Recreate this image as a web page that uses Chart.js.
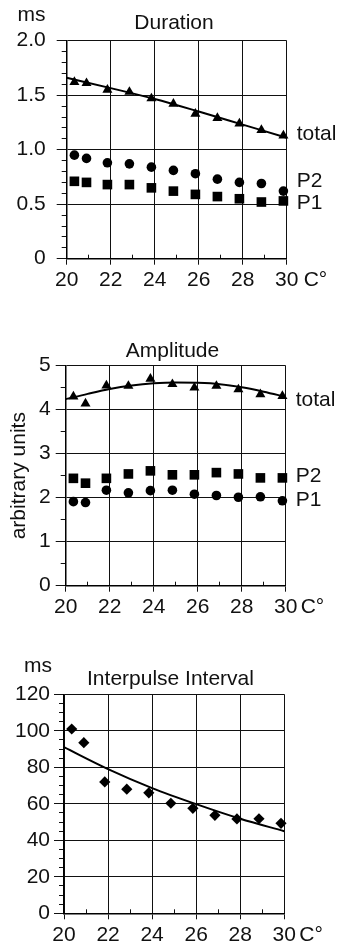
<!DOCTYPE html>
<html>
<head>
<meta charset="utf-8">
<script src="https://cdn.jsdelivr.net/npm/chart.js@4.4.1/dist/chart.umd.min.js"></script>
<style>
  body { margin: 0; background: #fff; width: 337px; height: 945px; position: relative; overflow: hidden; }
  canvas { position: absolute; left: 0; }
</style>
</head>
<body>
<canvas id="chart-1" width="337" height="300" style="top:0px"></canvas>
<canvas id="chart-2" width="337" height="320" style="top:300px"></canvas>
<canvas id="chart-3" width="337" height="325" style="top:620px"></canvas>
<script>
// temperatures (C) of the measured points, same for all three panels
var temps = [20.35, 20.9, 21.85, 22.85, 23.85, 24.85, 25.85, 26.85, 27.85, 28.85, 29.85];

// Duration (ms)
var dur_total = [1.62, 1.61, 1.55, 1.53, 1.47, 1.42, 1.33, 1.29, 1.24, 1.18, 1.13];
var dur_p2 = [0.95, 0.92, 0.88, 0.87, 0.84, 0.81, 0.78, 0.73, 0.70, 0.69, 0.62];
var dur_p1 = [0.71, 0.70, 0.68, 0.68, 0.65, 0.62, 0.59, 0.57, 0.55, 0.52, 0.53];
var dur_fit_x = [20, 22, 24, 26, 28, 30];
var dur_fit_y = [1.66, 1.565, 1.465, 1.35, 1.23, 1.11];

// Amplitude (arbitrary units)
var amp_total = [4.30, 4.14, 4.55, 4.54, 4.70, 4.58, 4.50, 4.54, 4.46, 4.35, 4.31];
var amp_p2 = [2.44, 2.33, 2.44, 2.54, 2.61, 2.52, 2.52, 2.57, 2.54, 2.45, 2.45];
var amp_p1 = [1.91, 1.89, 2.17, 2.11, 2.16, 2.17, 2.08, 2.05, 2.01, 2.02, 1.93];
var amp_fit_x = [20, 21, 22, 23, 24, 25, 26, 27, 28, 29, 30];
var amp_fit_y = [4.24, 4.36, 4.47, 4.55, 4.60, 4.62, 4.61, 4.58, 4.51, 4.41, 4.29];

// Interpulse interval (ms)
var ipi = [101, 93.5, 72, 68, 66, 60.3, 57.5, 53.7, 51.7, 51.8, 49.3];
var ipi_fit_x = [20, 22, 24, 26, 28, 30];
var ipi_fit_y = [91, 79, 68.6, 59.8, 51.8, 45];

var FONT = '"Liberation Sans", Arial, sans-serif';
var FSIZE = 21;
var INK = '#111';

function pts(xs, ys) {
  return xs.map(function (x, i) { return { x: x, y: ys[i] }; });
}

function onStep(v, step) {
  var r = v / step;
  return Math.abs(r - Math.round(r)) < 1e-6;
}

// text that is not part of an axis: panel title, unit, series names, C°
var figText = {
  id: 'figText',
  afterDraw: function (chart, args, o) {
    var ctx = chart.ctx;
    var a = chart.chartArea;
    var y = chart.scales.y;
    ctx.save();
    ctx.fillStyle = INK;
    ctx.font = FSIZE + 'px ' + FONT;
    ctx.textAlign = 'center';
    ctx.textBaseline = 'alphabetic';
    ctx.fillText(o.title, o.titleX, o.titleY);
    if (o.unit) ctx.fillText(o.unit, o.unitX, o.unitY);
    ctx.textAlign = 'left';
    ctx.textBaseline = 'middle';
    o.series.forEach(function (s) {
      ctx.fillText(s.text, a.right + 10, y.getPixelForValue(s.at));
    });
    ctx.fillText('C°', a.right + o.degDx, a.bottom + 22);
    ctx.restore();
  }
};

function makeChart(id, c) {
  var ctx = document.getElementById(id).getContext('2d');
  return new Chart(ctx, {
    type: 'scatter',
    data: { datasets: c.datasets },
    plugins: [figText],
    options: {
      responsive: false,
      animation: false,
      devicePixelRatio: 1,
      layout: { padding: { top: c.top, right: c.right, left: 0, bottom: 0 } },
      plugins: {
        legend: { display: false },
        tooltip: { enabled: false },
        figText: c.text
      },
      scales: {
        x: {
          type: 'linear',
          min: 20,
          max: 30,
          afterFit: function (s) { s.height = c.xHeight; },
          ticks: {
            stepSize: 1,
            autoSkip: false,
            maxRotation: 0,
            padding: 3,
            color: INK,
            font: { family: FONT, size: FSIZE },
            callback: function (v) { return onStep(v, 2) ? String(v) : ''; }
          },
          grid: {
            lineWidth: 1,
            color: '#111',
            tickLength: 6,
            tickWidth: 1,
            tickColor: function (t) { return t.tick && onStep(t.tick.value, 2) ? INK : 'rgba(0,0,0,0)'; }
          },
          border: {
            color: '#000',
            width: 1.5,
            // odd degrees: only a short tick inside the plot
            dash: function (t) {
              if (!t.tick || onStep(t.tick.value, 2)) return [];
              var h = t.chart.chartArea ? t.chart.chartArea.height : 200;
              return [0, h - 4, 4, 1000];
            }
          }
        },
        y: {
          type: 'linear',
          min: c.yMin,
          max: c.yMax,
          afterFit: function (s) { s.width = c.yWidth; },
          title: c.yTitle ? {
            display: true,
            text: c.yTitle,
            color: INK,
            font: { family: FONT, size: FSIZE },
            padding: { top: 7, bottom: 0 }
          } : { display: false },
          ticks: {
            stepSize: c.minor,
            autoSkip: false,
            padding: c.yPad,
            color: INK,
            font: { family: FONT, size: FSIZE },
            callback: function (v) {
              if (!onStep(v, c.major)) return '';
              return v === 0 ? '0' : v.toFixed(c.digits);
            }
          },
          grid: {
            lineWidth: 1,
            color: function (t) { return t.tick && onStep(t.tick.value, c.major) ? '#111' : 'rgba(0,0,0,0)'; },
            tickLength: 10,
            tickWidth: 1,
            tickColor: INK,
            tickBorderDash: function (t) {
              return t.tick && !onStep(t.tick.value, c.major) ? [0, 5, 5, 100] : [];
            }
          },
          border: { color: '#000', width: 1.5 }
        }
      }
    }
  });
}

function markers(xs, ys, style, r) {
  return {
    data: pts(xs, ys),
    showLine: false,
    pointStyle: style,
    pointRadius: r,
    pointHoverRadius: r,
    pointBorderWidth: 0,
    backgroundColor: '#000',
    borderColor: '#000',
    clip: false
  };
}

function fitLine(xs, ys) {
  return {
    data: pts(xs, ys),
    showLine: true,
    pointRadius: 0,
    borderColor: '#000',
    borderWidth: 2,
    cubicInterpolationMode: 'monotone'
  };
}

makeChart('chart-1', {
  top: 40.7, right: 50.3, xHeight: 41.3, yWidth: 66.7, yPad: 11,
  yMin: 0, yMax: 2, minor: 0.1, major: 0.5, digits: 1,
  datasets: [
    fitLine(dur_fit_x, dur_fit_y),
    markers(temps, dur_total, 'triangle', 5.8),
    markers(temps, dur_p2, 'circle', 4.8),
    markers(temps, dur_p1, 'rect', 6.8)
  ],
  text: {
    title: 'Duration', titleX: 174, titleY: 28.5,
    unit: 'ms', unitX: 31.5, unitY: 20.5, degDx: 17,
    series: [{ text: 'total', at: 1.14 }, { text: 'P2', at: 0.71 }, { text: 'P1', at: 0.505 }]
  }
});

makeChart('chart-2', {
  top: 65.7, right: 51.3, xHeight: 34.3, yWidth: 65.7, yPad: 5,
  yMin: 0, yMax: 5, minor: 0.5, major: 1, digits: 0,
  yTitle: 'arbitrary units',
  datasets: [
    fitLine(amp_fit_x, amp_fit_y),
    markers(temps, amp_total, 'triangle', 5.8),
    markers(temps, amp_p2, 'rect', 6.8),
    markers(temps, amp_p1, 'circle', 4.8)
  ],
  text: {
    title: 'Amplitude', titleX: 172.5, titleY: 56.5,
    unit: null, degDx: 15,
    series: [{ text: 'total', at: 4.22 }, { text: 'P2', at: 2.49 }, { text: 'P1', at: 1.95 }]
  }
});

makeChart('chart-3', {
  top: 74.3, right: 52.7, xHeight: 31.7, yWidth: 64, yPad: 4,
  yMin: 0, yMax: 120, minor: 5, major: 20, digits: 0,
  datasets: [
    fitLine(ipi_fit_x, ipi_fit_y),
    markers(temps, ipi, 'rectRot', 5.6)
  ],
  text: {
    title: 'Interpulse Interval', titleX: 170.5, titleY: 64.5,
    unit: 'ms', unitX: 38, unitY: 51.7, degDx: 15,
    series: []
  }
});
</script>
</body>
</html>
